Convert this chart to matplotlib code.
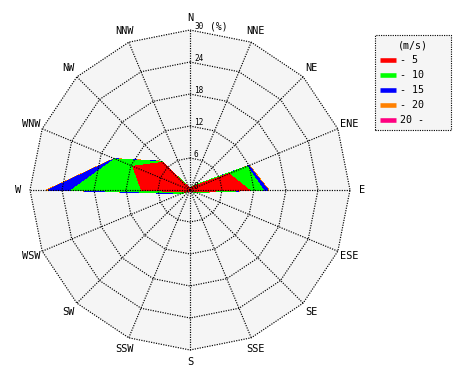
import numpy as np
import matplotlib
matplotlib.use('Agg')
import matplotlib.pyplot as plt
from matplotlib.lines import Line2D

# ---- data -------------------------------------------------------------
directions = ['N', 'NNE', 'NE', 'ENE', 'E', 'ESE', 'SE', 'SSE',
              'S', 'SSW', 'SW', 'WSW', 'W', 'WNW', 'NW', 'NNW']
speed_labels = ['- 5', '- 10', '- 15', '- 20', '20 -']
speed_colors = ['#ff0000', '#00ff00', '#0000ff', '#ff8000', '#ff0080']

# frequency (%) of each speed class per direction
freq_0_5   = [0.2, 0.3, 1.0, 7.9, 11.1, 0.8, 0.3, 0.2, 0.2, 0.2, 0.3, 1.0, 9.1, 11.6, 7.3, 0.4]
freq_5_10  = [0.1, 0.2, 0.3, 3.7, 2.6, 0.4, 0.1, 0.1, 0.1, 0.1, 0.1, 0.6, 13.1, 3.6, 0.2, 0.2]
freq_10_15 = [0.0, 0.0, 0.0, 0.3, 0.9, 0.0, 0.0, 0.0, 0.0, 0.0, 0.0, 0.2, 4.4, 0.1, 0.1, 0.0]
freq_15_20 = [0.0, 0.0, 0.0, 0.15, 0.2, 0.0, 0.0, 0.0, 0.0, 0.0, 0.0, 0.0, 0.3, 0.1, 0.05, 0.0]
freq_20_up = [0.0] * 16

ring_values = [0, 6, 12, 18, 24, 30]
r_max = 30
unit_label = '(%)'
legend_title = '(m/s)'

# ---- figure -----------------------------------------------------------
W, H = 470, 380
fig = plt.figure(figsize=(W / 100, H / 100), dpi=100)
cx, cy, R = 190, 190, 160
ax = fig.add_axes([(cx - R) / W, (H - cy - R) / H, 2 * R / W, 2 * R / H],
                  projection='polar')
ax.set_theta_zero_location('N')
ax.set_theta_direction(-1)
ax.set_ylim(0, r_max)
ax.set_axis_off()

n = len(directions)
theta = np.arange(n) * 2 * np.pi / n
theta_c = np.append(theta, theta[0])

# background polygon
ax.fill(theta_c, np.full(n + 1, r_max), color='#f5f5f5', lw=0, zorder=0,
        clip_on=False)

# stacked filled polygons (outermost first)
classes = [freq_0_5, freq_5_10, freq_10_15, freq_15_20, freq_20_up]
cum = np.cumsum(np.array(classes), axis=0)
for k in range(len(classes) - 1, -1, -1):
    vals = np.append(cum[k], cum[k][0])
    ax.fill(theta_c, vals, color=speed_colors[k], lw=0, antialiased=False,
            zorder=2 + (len(classes) - k))

# polygon grid
dot = (0, (1, 1.1))
glw = 0.85
for rv in ring_values[1:]:
    ax.plot(theta_c, np.full(n + 1, rv), color='black', lw=glw, ls=dot,
            antialiased=True, zorder=10, clip_on=False)
for t in theta:
    ax.plot([t, t], [0, r_max], color='black', lw=glw, ls=dot,
            antialiased=True, zorder=10, clip_on=False)

mono = 'DejaVu Sans Mono'
# direction labels
for t, lab in zip(theta, directions):
    ax.text(t, 32.3, lab, ha='center', va='center', fontsize=7.4,
            family=mono, clip_on=False)

# ring labels
for rv in ring_values:
    ax.annotate(str(rv), xy=(0, rv), xytext=(4, 3.5), textcoords='offset pixels',
                ha='left', va='center', fontsize=5.6, family=mono, zorder=12)
ax.annotate(unit_label, xy=(0, r_max), xytext=(20, 3.5), textcoords='offset pixels',
            ha='left', va='center', fontsize=7.0, family=mono, zorder=12)

# legend
handles = [Line2D([], [], color=c, lw=3.3, solid_capstyle='butt')
           for c in speed_colors]
leg = fig.legend(handles, speed_labels, title=legend_title,
                 loc='upper left',
                 bbox_to_anchor=(375 / W, 1 - 131 / H, 76 / W, 96 / H),
                 bbox_transform=fig.transFigure, borderaxespad=0,
                 mode='expand',
                 prop={'family': mono, 'size': 7.2},
                 title_fontproperties={'family': mono, 'size': 7.2},
                 frameon=True, fancybox=False, handlelength=1.6,
                 handletextpad=0.35, labelspacing=0.5, borderpad=0.5)
fr = leg.get_frame()
fr.set_facecolor('#f5f5f5')
fr.set_edgecolor('black')
fr.set_linestyle(dot)
fr.set_linewidth(0.8)
fr.set_alpha(1)

fig.savefig('out.png', dpi=100, facecolor='white')
